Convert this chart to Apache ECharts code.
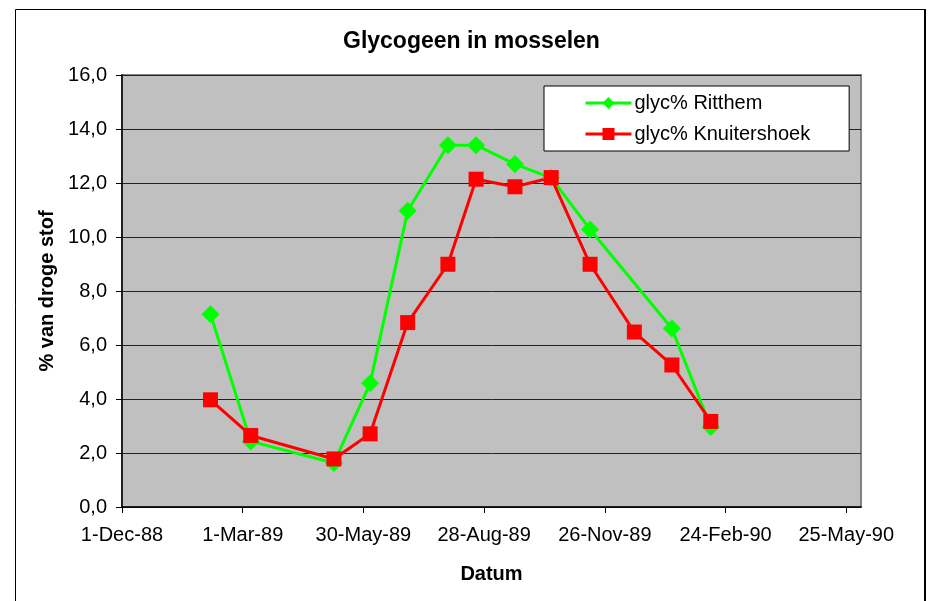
<!DOCTYPE html>
<html>
<head>
<meta charset="utf-8">
<script src="https://cdn.jsdelivr.net/npm/echarts@6/dist/echarts.min.js"></script>
<style>
html,body{margin:0;padding:0;background:#fff;}
#chart{width:928px;height:601px;}
</style>
</head>
<body>
<div id="chart"></div>
<script>
// ---- data ----
const baseDate = '1988-12-01';
const tickDates = ['1988-12-01','1989-03-01','1989-05-30','1989-08-28','1989-11-26','1990-02-24','1990-05-25'];
const axisEndDate = '1990-06-05';
const ritthemDates = ['1989-02-05','1989-03-07','1989-05-08','1989-06-04','1989-07-02','1989-08-01','1989-08-22','1989-09-20','1989-10-17','1989-11-15','1990-01-15','1990-02-13'];
const ritthemValues = [7.14, 2.43, 1.63, 4.58, 10.97, 13.40, 13.40, 12.70, 12.19, 10.28, 6.61, 2.96];
const knuitDates = ['1989-02-05','1989-03-07','1989-05-08','1989-06-04','1989-07-02','1989-08-01','1989-08-22','1989-09-20','1989-10-17','1989-11-15','1989-12-18','1990-01-15','1990-02-13'];
const knuitValues = [3.97, 2.65, 1.78, 2.71, 6.83, 8.99, 12.14, 11.86, 12.20, 8.99, 6.48, 5.26, 3.17];
const seriesNames = ['glyc% Ritthem', 'glyc% Knuitershoek'];
const months = ['Jan','Feb','Mar','Apr','May','Jun','Jul','Aug','Sep','Oct','Nov','Dec'];

function toUTC(s){ const p = s.split('-').map(Number); return Date.UTC(p[0], p[1]-1, p[2]); }
const base = toUTC(baseDate);
function dayOf(s){ return Math.round((toUTC(s) - base) / 86400000); }
function fmtDay(d){
  const dt = new Date(base + d * 86400000);
  return dt.getUTCDate() + '-' + months[dt.getUTCMonth()] + '-' + String(dt.getUTCFullYear()).slice(2);
}
const tickDays = tickDates.map(dayOf);
const ritthemData = ritthemDates.map((d,i)=>[dayOf(d), ritthemValues[i]]);
const knuitData = knuitDates.map((d,i)=>[dayOf(d), knuitValues[i]]);

const FONT = 'Liberation Sans, Arial, sans-serif';
const chart = echarts.init(document.getElementById('chart'), null, {renderer:'canvas'});
chart.setOption({
  animation: false,
  backgroundColor: '#fff',
  title: {
    text: 'Glycogeen in mosselen',
    left: 343, top: 30, padding: 0,
    textStyle: {fontFamily: FONT, fontSize: 23, fontWeight: 'bold', color: '#000'}
  },
  grid: {
    left: 122, right: 67, top: 75, bottom: 94,
    show: true, backgroundColor: '#C0C0C0', borderColor: '#808080', borderWidth: 2,
    containLabel: false
  },
  legend: {
    orient: 'vertical',
    left: 544, top: 86,
    padding: [7, 39, 7, 40],
    itemWidth: 46, itemHeight: 15, itemGap: 11,
    backgroundColor: '#fff', borderColor: '#000', borderWidth: 1, borderRadius: 0,
    lineStyle: {width: 3},
    textStyle: {fontFamily: FONT, fontSize: 20, color: '#000', padding: [0, 0, 0, -2]},
    data: seriesNames
  },
  xAxis: {
    type: 'value',
    min: 0, max: dayOf(axisEndDate), interval: 90,
    name: 'Datum', nameLocation: 'middle', nameGap: 57,
    nameTextStyle: {fontFamily: FONT, fontSize: 20, fontWeight: 'bold', color: '#000'},
    axisLine: {show: true, onZero: false, lineStyle: {color: '#000', width: 1.5}},
    axisTick: {show: true, inside: false, length: 6, customValues: tickDays, lineStyle: {color: '#000', width: 1}},
    axisLabel: {customValues: tickDays, margin: 18, fontFamily: FONT, fontSize: 20, color: '#000', formatter: v => fmtDay(v)},
    splitLine: {show: false}
  },
  yAxis: {
    type: 'value',
    min: 0, max: 16, interval: 2,
    name: '% van droge stof', nameLocation: 'middle', nameGap: 62, nameRotate: 90,
    nameTextStyle: {fontFamily: FONT, fontSize: 20, fontWeight: 'bold', color: '#000'},
    axisLine: {show: true, lineStyle: {color: '#000', width: 1.5}},
    axisTick: {show: true, inside: false, length: 6, lineStyle: {color: '#000', width: 1}},
    axisLabel: {margin: 15, fontFamily: FONT, fontSize: 20, color: '#000', formatter: v => v.toFixed(1).replace('.', ',')},
    splitLine: {show: true, lineStyle: {color: '#222', width: 1}}
  },
  series: [
    {
      name: seriesNames[0], type: 'line', data: ritthemData,
      symbol: 'diamond', symbolSize: 18,
      lineStyle: {color: '#00FF00', width: 3},
      itemStyle: {color: '#00FF00'},
      emphasis: {disabled: true}
    },
    {
      name: seriesNames[1], type: 'line', data: knuitData,
      symbol: 'rect', symbolSize: 15,
      lineStyle: {color: '#FF0000', width: 3},
      itemStyle: {color: '#FF0000'},
      emphasis: {disabled: true}
    }
  ],
  graphic: [
    {type: 'rect', silent: true, z: 100, shape: {x: 15.5, y: 9.5, width: 909, height: 620},
     style: {fill: null, stroke: '#000', lineWidth: 1}},
    {type: 'line', silent: true, z: 100, shape: {x1: 925, y1: 9, x2: 925, y2: 601},
     style: {stroke: '#000', lineWidth: 2}}
  ]
});
</script>
</body>
</html>
